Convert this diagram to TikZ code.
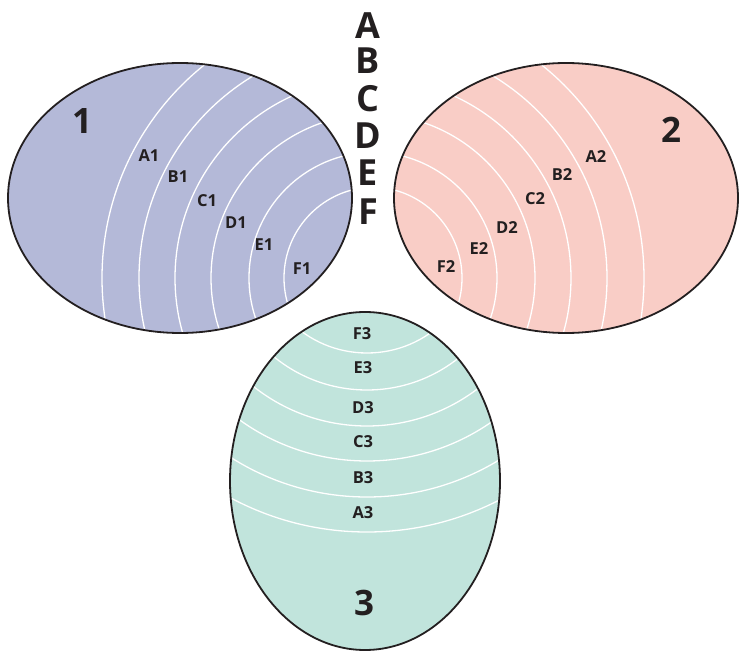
\documentclass[tikz,border=0pt]{standalone}
\usepackage{fontspec}
\setmainfont{Open Sans}
\definecolor{fillA}{RGB}{180,185,216}
\definecolor{fillB}{RGB}{249,205,198}
\definecolor{fillC}{RGB}{193,228,220}
\definecolor{ink}{RGB}{35,31,32}
\tikzset{
  border/.style={draw=ink, line width=1.8pt},
  ring/.style={draw=white, line width=1.3pt},
  lbl/.style={text=ink, inner sep=0pt, font=\bfseries\fontsize{16.5}{17}\selectfont},
  big/.style={text=ink, inner sep=0pt, font=\bfseries\fontsize{36}{36}\selectfont},
  num/.style={text=ink, inner sep=0pt, font=\bfseries\fontsize{35}{35}\selectfont}
}
\begin{document}
\begin{tikzpicture}[x=1pt,y=-1pt]
\useasboundingbox (0,0) rectangle (739,652);
% ellipse 1
\fill[fillA] (180,198) ellipse [x radius=172pt, y radius=135pt];
\begin{scope}
\clip (180,198) ellipse [x radius=172pt, y radius=135pt];
\foreach \r in {91,126,164,200,236,273} \draw[ring] (375,278) circle [radius=\r pt];
\end{scope}
\draw[border] (180,198) ellipse [x radius=172pt, y radius=135pt];
% ellipse 2
\fill[fillB] (566,198) ellipse [x radius=172pt, y radius=135pt];
\begin{scope}
\clip (566,198) ellipse [x radius=172pt, y radius=135pt];
\foreach \r in {91,126,164,200,236,273} \draw[ring] (371,278) circle [radius=\r pt];
\end{scope}
\draw[border] (566,198) ellipse [x radius=172pt, y radius=135pt];
% ellipse 3
\fill[fillC] (365,481) ellipse [x radius=135pt, y radius=169pt];
\begin{scope}
\clip (365,481) ellipse [x radius=135pt, y radius=169pt];
\foreach \r in {110,147,183,218,254,289} \draw[ring] (367,243) circle [radius=\r pt];
\end{scope}
\draw[border] (365,481) ellipse [x radius=135pt, y radius=169pt];
% big letters
\node[big] (bA) at (368,26) {A};
\node[big] (bB) at (368,61) {B};
\node[big] (bC) at (368,99) {C};
\node[big] (bD) at (368,136) {D};
\node[big] (bE) at (368,173) {E};
\node[big] (bF) at (368,212) {F};
% numbers
\node[num] (n1) at (82,121) {1};
\node[num] (n2) at (671,130) {2};
\node[num] (n3) at (364,603) {3};
% labels 1
\node[lbl] (a1) at (149,156) {A1};
\node[lbl] (b1) at (178,177) {B1};
\node[lbl] (c1) at (207,201) {C1};
\node[lbl] (d1) at (236,223) {D1};
\node[lbl] (e1) at (264,245) {E1};
\node[lbl] (f1) at (302,269) {F1};
% labels 2
\node[lbl] (a2) at (596,157) {A2};
\node[lbl] (b2) at (562,175) {B2};
\node[lbl] (c2) at (535,199) {C2};
\node[lbl] (d2) at (507,228) {D2};
\node[lbl] (e2) at (479,249) {E2};
\node[lbl] (f2) at (446,267) {F2};
% labels 3
\node[lbl] (f3) at (362,334) {F3};
\node[lbl] (e3) at (363,368) {E3};
\node[lbl] (d3) at (363,408) {D3};
\node[lbl] (c3) at (363,442) {C3};
\node[lbl] (b3) at (363,478) {B3};
\node[lbl] (a3) at (363,513) {A3};
\end{tikzpicture}
\end{document}
